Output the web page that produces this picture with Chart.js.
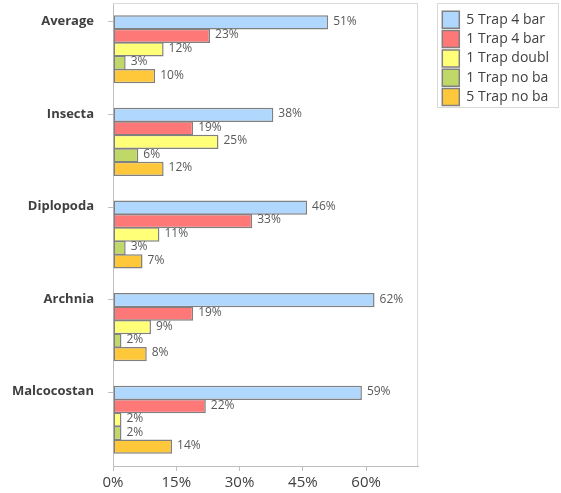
<!DOCTYPE html>
<html>
<head>
<meta charset="utf-8">
<script src="https://cdn.jsdelivr.net/npm/chart.js@4"></script>
<style>
  html, body { margin: 0; padding: 0; background: #fff; }
  #wrap { width: 561px; height: 493px; }
</style>
</head>
<body>
<div id="wrap"><canvas id="chart"></canvas></div>
<script>
(function () {
  "use strict";

  const categories = ["Average", "Insecta", "Diplopoda", "Archnia", "Malcocostan"];
  const seriesNames = ["5 Trap 4 bar", "1 Trap 4 bar", "1 Trap doubl", "1 Trap no ba", "5 Trap no ba"];
  const trap5bar4 = [51, 38, 46, 62, 59];
  const trap1bar4 = [23, 19, 33, 19, 22];
  const trap1doubl = [12, 25, 11, 9, 2];
  const trap1noba = [3, 6, 3, 2, 2];
  const trap5noba = [10, 12, 7, 8, 14];
  const xTicks = [0, 15, 30, 45, 60];

  const colors = ["#B0D8FF", "#FF7878", "#FFFF78", "#BFD868", "#FFC83A"];
  const values = [trap5bar4, trap1bar4, trap1doubl, trap1noba, trap5noba];
  const font = "'Open Sans', 'Noto Sans', sans-serif";

  const datasets = seriesNames.map((name, i) => ({
    label: name,
    data: values[i],
    backgroundColor: colors[i],
    borderColor: "#808080",
    borderWidth: 1.5,
    borderSkipped: false,
    barPercentage: 1.06,
    categoryPercentage: 0.727,
  }));

  const LABEL_SHIFT = -28;

  const decor = {
    id: "decor",
    afterInit(chart) {
      const lg = chart.legend;
      const fit = lg.fit.bind(lg);
      lg.fit = function () {
        fit();
        this.width = 143;
      };
    },
    afterLayout(chart) {
      const lg = chart.legend;
      lg.left += 22; lg.right += 22;
      lg.top += 6; lg.bottom += 6;
    },
    afterDatasetsDraw(chart) {
      const ctx = chart.ctx;
      const a = chart.chartArea;
      ctx.save();
      // plot frame (top / right)
      ctx.strokeStyle = "#d9d9d9";
      ctx.lineWidth = 1;
      ctx.beginPath();
      ctx.moveTo(a.left, a.top + 0.5);
      ctx.lineTo(a.right - 0.5, a.top + 0.5);
      ctx.lineTo(a.right - 0.5, a.bottom);
      ctx.stroke();
      // y tick marks next to the labels
      const ys = chart.scales.y;
      ctx.strokeStyle = "#bfbfbf";
      ys.ticks.forEach((t, i) => {
        const y = Math.round(ys.getPixelForTick(i) + LABEL_SHIFT) + 0.5;
        ctx.beginPath();
        ctx.moveTo(a.left - 5, y);
        ctx.lineTo(a.left, y);
        ctx.stroke();
      });
      // value labels
      ctx.fillStyle = "#595959";
      ctx.font = "12px " + font;
      ctx.textBaseline = "middle";
      ctx.textAlign = "left";
      chart.data.datasets.forEach((ds, di) => {
        chart.getDatasetMeta(di).data.forEach((bar, i) => {
          ctx.fillText(ds.data[i] + "%", bar.x + 5, bar.y - 1);
        });
      });
      // legend frame
      const lg = chart.legend;
      ctx.strokeStyle = "#d9d9d9";
      ctx.strokeRect(lg.left - 2.5, 3.5, 121, 104);
      ctx.restore();
    },
  };

  new Chart(document.getElementById("chart"), {
    type: "bar",
    data: { labels: categories, datasets },
    plugins: [decor],
    options: {
      indexAxis: "y",
      responsive: true,
      maintainAspectRatio: false,
      animation: false,
      layout: { padding: { top: 3, left: 0, right: 0, bottom: 0 } },
      plugins: {
        legend: {
          position: "right",
          align: "start",
          labels: {
            boxWidth: 17,
            boxHeight: 17,
            padding: 2.3,
            color: "#404040",
            font: { family: font, size: 14 },
          },
        },
        tooltip: { enabled: false },
      },
      scales: {
        x: {
          min: 0,
          max: 72.3,
          afterBuildTicks: (s) => { s.ticks = xTicks.map((v) => ({ value: v })); },
          afterFit: (s) => { s.height = 27; s.paddingLeft = 0; s.paddingRight = 0; },
          ticks: {
            callback: (v) => `${v}%`,
            color: "#404040",
            padding: 3,
            font: { family: font, size: 15 },
          },
          grid: { drawOnChartArea: false, tickLength: 5, color: "#bfbfbf" },
          border: { color: "#bfbfbf" },
        },
        y: {
          afterFit: (s) => { s.width = 113; s.paddingTop = 0; s.paddingBottom = 0; },
          ticks: {
            color: "#404040",
            padding: 19,
            labelOffset: LABEL_SHIFT,
            font: { family: font, size: 13, weight: "bold" },
          },
          grid: { display: false, drawTicks: false },
          border: { color: "#bfbfbf" },
        },
      },
    },
  });
})();
</script>
</body>
</html>
